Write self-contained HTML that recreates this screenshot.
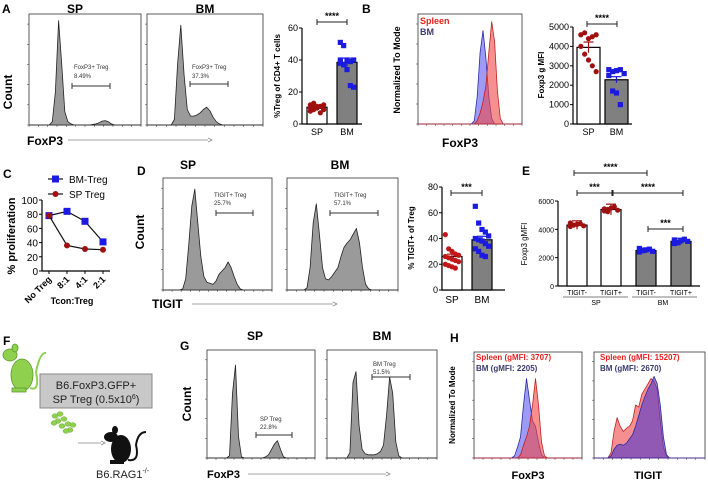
<!DOCTYPE html>
<html><head><meta charset="utf-8"><style>
html,body{margin:0;padding:0;background:#fff;}
svg{display:block;font-family:"Liberation Sans",Arial,sans-serif;}
</style></head><body>
<svg id="fig" width="708" height="480" viewBox="0 0 708 480" xmlns="http://www.w3.org/2000/svg"></svg>
<script>
// ---------- DATA ----------
const histA_SP=[0,0,0,0,0,0,0,0.03,0.3,0.94,0.55,0.12,0.03,0.01,0,0,0,0,0,0,0.005,0.01,0.02,0.035,0.04,0.03,0.01,0,0,0,0,0,0,0,0,0];
const histA_BM=[0,0,0,0,0,0,0,0,0.05,0.55,0.9,0.45,0.14,0.08,0.08,0.09,0.11,0.14,0.16,0.13,0.07,0.03,0.01,0,0,0,0,0,0,0,0,0,0,0,0,0];
const histB_BM=[0,0,0,0,0,0,0,0,0,0,0,0,0,0,0,0,0,0,0,0.03,0.25,0.65,0.85,0.6,0.25,0.05,0,0,0,0,0,0,0,0,0,0];
const histB_SP=[0,0,0,0,0,0,0,0,0,0,0,0,0,0,0,0,0,0,0,0,0.03,0.1,0.2,0.35,0.65,0.93,0.75,0.3,0.05,0,0,0,0,0,0,0];
const histD_SP=[0,0,0,0,0,0,0.01,0.1,0.4,0.75,0.9,0.6,0.3,0.12,0.07,0.06,0.05,0.08,0.14,0.17,0.2,0.25,0.2,0.12,0.05,0.01,0,0,0,0,0,0,0,0,0,0];
const histD_BM=[0,0,0,0,0,0,0.02,0.2,0.6,0.77,0.5,0.2,0.1,0.09,0.12,0.16,0.2,0.3,0.38,0.42,0.45,0.5,0.55,0.42,0.2,0.05,0.01,0,0,0,0,0,0,0,0,0];
const histG_SP=[0,0,0,0,0,0,0,0.02,0.6,0.86,0.2,0.01,0,0,0,0,0,0,0,0.01,0.03,0.08,0.13,0.16,0.08,0.01,0,0,0,0,0,0,0,0,0,0];
const histG_BM=[0,0,0,0,0,0,0,0.05,0.7,0.8,0.3,0.08,0.04,0.03,0.03,0.03,0.04,0.06,0.12,0.4,0.75,0.6,0.15,0.02,0,0,0,0,0,0,0,0,0,0,0,0];
const histH1_BM=[0,0,0,0,0,0,0,0,0,0,0,0,0,0.02,0.1,0.2,0.5,0.75,0.55,0.35,0.3,0.15,0.03,0,0,0,0,0,0,0,0,0,0,0,0,0];
const histH1_SP=[0,0,0,0,0,0,0,0,0,0,0,0,0,0,0,0.03,0.12,0.2,0.3,0.5,0.75,0.5,0.15,0.02,0,0,0,0,0,0,0,0,0,0,0,0];
const histH2_SP=[0,0,0,0,0,0.05,0.25,0.38,0.3,0.25,0.28,0.3,0.35,0.5,0.48,0.6,0.65,0.7,0.75,0.72,0.65,0.35,0.1,0.02,0,0,0,0,0,0,0,0,0,0,0,0];
const histH2_BM=[0,0,0,0,0,0.02,0.08,0.12,0.13,0.12,0.14,0.18,0.22,0.3,0.4,0.5,0.58,0.65,0.7,0.77,0.7,0.5,0.2,0.03,0,0,0,0,0,0,0,0,0,0,0,0];

const aCats=["SP","BM"], aMeans=[10.5,38.5];
const aSP=[8,9,10,11,12,12,13,11,7,9,10], aBM=[51,49,40,39,40,38,37,34,24,23,40];
const bCats=["SP","BM"], bMeans=[3950,2280];
const bSP=[4600,4700,4400,4500,4600,4000,3600,3300,3000,2700], bBM=[2800,2700,2750,2800,2600,2500,1700,1600,1000];
const dCats=["SP","BM"], dMeans=[26,39];
const dSP=[43,32,30,28,27,26,25,24,23,22,20,19,18,17], dBM=[65,52,47,45,42,40,39,38,36,34,32,30,27,26];
const eCats=["TIGIT-","TIGIT+","TIGIT-","TIGIT+"], eMeans=[4300,5400,2500,3150];
const eDots=[[4200,4300,4350,4400,4250,4450,4300],[5300,5400,5500,5600,5350,5450,5250],[2400,2500,2550,2600,2450,2650,2500],[3000,3100,3200,3300,3150,3250,3050]];
const cCats=["No Treg","8:1","4:1","2:1"], cBM=[78,84,70,41], cSP=[78,36,31,30];
const cTicks=[0,20,40,60,80,100];

// ---------- HELPERS ----------
const svg=document.getElementById('fig');
const NS="http://www.w3.org/2000/svg";
function mk(tag,attrs,parent){const e=document.createElementNS(NS,tag);for(const k in attrs)e.setAttribute(k,attrs[k]);(parent||svg).appendChild(e);return e;}
function txt(x,y,s,size,opts){opts=opts||{};const e=mk('text',{x:x,y:y,'font-size':size,fill:opts.fill||'#000','font-weight':opts.bold?'bold':'normal','text-anchor':opts.anchor||'start'});if(opts.rot)e.setAttribute('transform','rotate('+opts.rot+' '+x+' '+y+')');e.textContent=s;return e;}

function histBox(x0,y0,x1,y1,name){
  const r=mk('rect',{x:x0,y:y0,width:x1-x0,height:y1-y0,fill:'none',stroke:'#333','stroke-width':0.8});
  
  
  for(let i=0;i<=12;i++){mk('line',{x1:x0+i*(x1-x0)/12,y1:y1,x2:x0+i*(x1-x0)/12,y2:y1+2,stroke:'#333','stroke-width':0.5});}
  for(let i=0;i<=5;i++){mk('line',{x1:x0,y1:y1-i*(y1-y0)/5.5,x2:x0-2,y2:y1-i*(y1-y0)/5.5,stroke:'#333','stroke-width':0.5});}
}
function hist(x0,y0,x1,y1,vals,fill,stroke,name){
  const w=x1-x0,h=y1-y0,n=vals.length;
  const xs=i=>x0+(i+0.5)*w/n, ys=v=>y1-v*h;
  let d='M'+x0+','+y1;
  vals.forEach((v,i)=>{d+=' L'+xs(i).toFixed(1)+','+ys(v).toFixed(1);});
  d+=' L'+x1+','+y1+' Z';
  const p=mk('path',{d:d,fill:fill,stroke:stroke,'stroke-width':0.8,'stroke-linejoin':'round'});
  
  
}
function gate(x0,x1,y,name){
  const g=mk('g',{stroke:'#333','stroke-width':1});
  
  
  mk('line',{x1:x0,y1:y,x2:x1,y2:y},g);mk('line',{x1:x0,y1:y-3,x2:x0,y2:y+3},g);mk('line',{x1:x1,y1:y-3,x2:x1,y2:y+3},g);
}
function arrow(x0,x1,y){mk('line',{x1:x0,y1:y,x2:x1,y2:y,stroke:'#888','stroke-width':0.8});mk('path',{d:'M'+x1+','+(y-2)+' L'+(x1+4)+','+y+' L'+x1+','+(y+2),fill:'none',stroke:'#888','stroke-width':0.8});}
function sig(x0,x1,y,s,name){
  const g=mk('g',{stroke:'#222','stroke-width':1});
  
  
  mk('line',{x1:x0,y1:y,x2:x1,y2:y},g);mk('line',{x1:x0,y1:y-3,x2:x0,y2:y+3},g);mk('line',{x1:x1,y1:y-3,x2:x1,y2:y+3},g);
  txt((x0+x1)/2,y-3,s,9,{anchor:'middle',bold:true});
}
function barChart(o){
  const ys=v=>o.yb-(v/o.max)*(o.yb-o.yt);
  mk('line',{x1:o.ax,y1:o.yt,x2:o.ax,y2:o.yb,stroke:'#000','stroke-width':1.2});
  mk('line',{x1:o.ax,y1:o.yb,x2:o.xEnd,y2:o.yb,stroke:'#000','stroke-width':1.2});
  o.ticks.forEach(t=>{mk('line',{x1:o.ax-3,y1:ys(t),x2:o.ax,y2:ys(t),stroke:'#000','stroke-width':1});
    const l=txt(o.ax-4,ys(t)+3,String(t),o.fs||9,{anchor:'end'});
    
    });
  o.cats.forEach((c,i)=>{
    const bx=o.bx[i],bw=o.bw;
    const b=mk('rect',{x:bx,y:ys(o.means[i]),width:bw,height:o.yb-ys(o.means[i]),fill:o.fills[i],stroke:'#000','stroke-width':1.2});
    
    
    mk('line',{x1:bx+bw/2-5,y1:ys(o.means[i]*1.07),x2:bx+bw/2+5,y2:ys(o.means[i]*1.07),stroke:o.dotc[i],'stroke-width':1.2});
    mk('line',{x1:bx+bw/2,y1:ys(o.means[i]*0.93),x2:bx+bw/2,y2:ys(o.means[i]*1.07),stroke:o.dotc[i],'stroke-width':1.2});
    o.dots[i].forEach((v,j)=>{
      const dx=bx+bw/2+((j%5)-2)*bw/6;
      let d;
      if(o.shape[i]==='c'){d=mk('circle',{cx:dx,cy:ys(v),r:2.6,fill:o.dotc[i]});}
      else{d=mk('rect',{x:dx-2.6,y:ys(v)-2.6,width:5.2,height:5.2,fill:o.dotc[i]});}
      
      
    });
    const l=txt(bx+bw/2,o.yb+(o.catDy||11),c,o.catFs||9,{anchor:'middle'});
    
    
  });
  return ys;
}

// ---------- PANEL A ----------
txt(2,13,'A',12,{bold:true});
txt(75,13,'SP',12,{bold:true,anchor:'middle'});
txt(205,13,'BM',12,{bold:true,anchor:'middle'});
histBox(29,14,141,125,'hist-a-sp');
hist(29,14,141,125,histA_SP,'#9a9a9a','#222','hist-a-sp-curve');
histBox(147,14,263,125,'hist-a-bm');
hist(147,14,263,125,histA_BM,'#9a9a9a','#222','hist-a-bm-curve');
txt(74,69,'FoxP3+ Treg',6,{fill:'#333'});txt(74,78,'8.49%',6,{fill:'#333'});
gate(72,110,86,'gate-a-sp');
txt(192,69,'FoxP3+ Treg',6,{fill:'#333'});txt(192,78,'37.3%',6,{fill:'#333'});
gate(190,228,84,'gate-a-bm');
txt(12,92,'Count',12,{bold:true,anchor:'middle',rot:-90});
txt(27,145,'FoxP3',12,{bold:true});
arrow(68,208,140);
barChart({name:'a',ax:302,yb:124,yt:28,max:60,xEnd:362,ticks:[0,20,40,60],cats:aCats,means:aMeans,bx:[307,337],bw:20,fills:['#fff','#808080'],dots:[aSP,aBM],dotc:['#a01010','#1a1ae0'],shape:['c','s']});
txt(280,76,'%Treg of CD4+ T cells',8,{bold:true,anchor:'middle',rot:-90});
sig(317,347,22,'****','sig-a');

// ---------- PANEL B ----------
txt(362,13,'B',12,{bold:true});
histBox(418,14,522,124,'hist-b');
hist(418,14,522,124,histB_BM,'rgba(90,90,240,0.6)','#2a2aa0','hist-b-bm');
hist(418,14,522,124,histB_SP,'rgba(240,70,70,0.6)','#c02020','hist-b-sp');
txt(420,24,'Spleen',9,{bold:true,fill:'#e82020'});
txt(420,35,'BM',9,{bold:true,fill:'#3a3a70'});
txt(400,70,'Normalized To Mode',9,{bold:true,anchor:'middle',rot:-90});
txt(460,147,'FoxP3',12,{bold:true,anchor:'middle'});
barChart({name:'b',ax:573,yb:124,yt:27,max:5000,xEnd:632,ticks:[0,1000,2000,3000,4000,5000],cats:bCats,means:bMeans,bx:[577,605],bw:23,fills:['#fff','#808080'],dots:[bSP,bBM],dotc:['#a01010','#1a1ae0'],shape:['c','s']});
txt(544,75,'Foxp3 g MFI',8,{bold:true,anchor:'middle',rot:-90});
sig(587,617,24,'****','sig-b');

// ---------- PANEL C ----------
txt(3,178,'C',12,{bold:true});
(function(){
  const ax=42,yb=271,yt=200,x0=49,dx=18;
  const ys=v=>yb-v/100*(yb-yt);
  mk('line',{x1:ax,y1:yt,x2:ax,y2:yb,stroke:'#000','stroke-width':1.2});
  mk('line',{x1:ax,y1:yb,x2:110,y2:yb,stroke:'#000','stroke-width':1.2});
  cTicks.forEach(t=>{mk('line',{x1:ax-3,y1:ys(t),x2:ax,y2:ys(t),stroke:'#000'});const l=txt(ax-4,ys(t)+4,String(t),10,{anchor:'end'});
    
    });
  cCats.forEach((c,i)=>{const x=x0+i*dx;mk('line',{x1:x,y1:yb,x2:x,y2:yb+3,stroke:'#000'});const l=txt(x+3,yb+9,c,9,{anchor:'end',rot:-45,bold:true});
    
    });
  [[cBM,'#1a1ae0','s','line-bm-treg'],[cSP,'#a01010','c','line-sp-treg']].forEach(s=>{
    const pts=s[0].map((v,i)=>(x0+i*dx)+','+ys(v)).join(' ');
    const pl=mk('polyline',{points:pts,fill:'none',stroke:'#111','stroke-width':1.2});
    
    
    s[0].forEach((v,i)=>{const x=x0+i*dx;let m;
      if(s[2]==='s')m=mk('rect',{x:x-3.5,y:ys(v)-3.5,width:7,height:7,fill:s[1]});else m=mk('circle',{cx:x,cy:ys(v),r:3,fill:s[1]});
      
      });
  });
  mk('line',{x1:48,y1:179,x2:63,y2:179,stroke:'#111','stroke-width':1.2});mk('rect',{x:52,y:175.5,width:7,height:7,fill:'#1a1ae0'});
  txt(69,183,'BM-Treg',10);
  mk('line',{x1:48,y1:194,x2:63,y2:194,stroke:'#111','stroke-width':1.2});mk('circle',{cx:55.5,cy:194,r:3,fill:'#a01010'});
  txt(69,198,'SP Treg',10);
  txt(15,236,'% proliferation',11,{bold:true,anchor:'middle',rot:-90});
  txt(72,304,'Tcon:Treg',9,{bold:true,anchor:'middle'});
})();

// ---------- PANEL D ----------
txt(137,175,'D',12,{bold:true});
txt(188,169,'SP',12,{bold:true,anchor:'middle'});
txt(340,169,'BM',12,{bold:true,anchor:'middle'});
histBox(163,178,272,290,'hist-d-sp');
hist(163,178,272,290,histD_SP,'#9a9a9a','#222','hist-d-sp-curve');
histBox(287,178,398,290,'hist-d-bm');
hist(287,178,398,290,histD_BM,'#9a9a9a','#222','hist-d-bm-curve');
txt(214,197,'TIGIT+  Treg',6,{fill:'#333'});txt(214,205,'25.7%',6,{fill:'#333'});
gate(216,253,213,'gate-d-sp');
txt(334,197,'TIGIT+  Treg',6,{fill:'#333'});txt(334,205,'57.1%',6,{fill:'#333'});
gate(330,378,213,'gate-d-bm');
txt(144,232,'Count',12,{bold:true,anchor:'middle',rot:-90});
txt(152,308,'TIGIT',12,{bold:true});
arrow(192,333,304);
barChart({name:'d',ax:442,yb:290,yt:187,max:80,xEnd:505,ticks:[0,20,40,60,80],cats:dCats,means:dMeans,bx:[442,472],bw:20,fills:['#fff','#808080'],dots:[dSP,dBM],dotc:['#c01818','#1a1ae0'],shape:['c','s'],catFs:10,catDy:13});
txt(414,238,'% TIGIT+ of Treg',8,{bold:true,anchor:'middle',rot:-90});
sig(451,482,193,'***','sig-d');

// ---------- PANEL E ----------
txt(522,175,'E',12,{bold:true});
barChart({name:'e',ax:558,yb:286,yt:201,max:6000,xEnd:700,ticks:[0,2000,4000,6000],fs:7,cats:eCats,means:eMeans,bx:[567,601,636,671],bw:20,fills:['#fff','#fff','#808080','#808080'],dots:eDots,dotc:['#a01010','#a01010','#1a1ae0','#1a1ae0'],shape:['c','c','s','s'],catFs:7,catDy:9});
mk('line',{x1:563,y1:297,x2:628,y2:297,stroke:'#555','stroke-width':0.8});
mk('line',{x1:632,y1:297,x2:697,y2:297,stroke:'#555','stroke-width':0.8});
txt(596,305,'SP',7,{anchor:'middle'});txt(663,305,'BM',7,{anchor:'middle'});
txt(527,244,'Foxp3 gMFI',8,{anchor:'middle',rot:-90});
sig(574,647,173,'****','sig-e-1');
sig(577,612,193,'***','sig-e-2');
sig(613,683,193,'****','sig-e-3');
sig(648,683,229,'***','sig-e-4');

// ---------- PANEL F ----------
txt(3,345,'F',12,{bold:true});
(function(){
  const g=mk('g',{fill:'#8fd14f',stroke:'#5a9a2a','stroke-width':0.8});
  
  
  mk('ellipse',{cx:22,cy:375,rx:11,ry:16},g);
  mk('ellipse',{cx:10,cy:355,rx:7,ry:6},g);
  mk('ellipse',{cx:15,cy:348,rx:3,ry:4},g);
  mk('path',{d:'M30,388 Q40,392 36,372 Q40,352 46,353',fill:'none',stroke:'#8fd14f','stroke-width':2},g);
  mk('rect',{x:12,y:388,width:14,height:4},g);
  const b=mk('rect',{x:40,y:374,width:112,height:34,fill:'#c8c8c8',stroke:'#888','stroke-width':1});
  
  
  txt(96,389,'B6.FoxP3.GFP+',11,{anchor:'middle',fill:'#222'});
  const t=txt(96,403,'SP Treg (0.5x10',11,{anchor:'middle',fill:'#222'});
  const ts=document.createElementNS(NS,'tspan');ts.setAttribute('font-size','7');ts.setAttribute('dy','-4');ts.textContent='6';t.appendChild(ts);
  const ts2=document.createElementNS(NS,'tspan');ts2.setAttribute('dy','4');ts2.textContent=')';t.appendChild(ts2);
  const cg=mk('g',{fill:'#8fd14f',stroke:'#6aa83a','stroke-width':0.5});
  
  
  [[55,416],[60,414],[58,421],[64,419],[62,426],[68,424],[70,430],[66,431],[73,425],[54,423]].forEach(p=>mk('ellipse',{cx:p[0],cy:p[1],rx:3,ry:2.3},cg));
  arrow(78,101,443);
  const k=mk('g',{fill:'#111'});
  
  
  mk('ellipse',{cx:121,cy:449,rx:10,ry:14},k);
  mk('ellipse',{cx:111,cy:437,rx:7,ry:5},k);
  mk('ellipse',{cx:115,cy:430,rx:3,ry:4},k);
  mk('path',{d:'M128,460 Q140,462 136,445 Q138,432 146,432',fill:'none',stroke:'#111','stroke-width':2},k);
  mk('rect',{x:110,y:460,width:14,height:4},k);
  const rt=txt(96,478,'B6.RAG1',11,{fill:'#222'});
  const s1=document.createElementNS(NS,'tspan');s1.setAttribute('font-size','7');s1.setAttribute('dy','-5');s1.textContent='-/-';rt.appendChild(s1);
})();

// ---------- PANEL G ----------
txt(180,350,'G',12,{bold:true});
txt(255,340,'SP',12,{bold:true,anchor:'middle'});
txt(382,340,'BM',12,{bold:true,anchor:'middle'});
histBox(207,350,315,458,'hist-g-sp');
hist(207,350,315,458,histG_SP,'#9a9a9a','#222','hist-g-sp-curve');
histBox(327,350,437,458,'hist-g-bm');
hist(327,350,437,458,histG_BM,'#9a9a9a','#222','hist-g-bm-curve');
txt(260,421,'SP Treg',6,{fill:'#333'});txt(260,429,'22.8%',6,{fill:'#333'});
gate(256,292,435,'gate-g-sp');
txt(373,366,'BM Treg',6,{fill:'#333'});txt(373,374,'51.5%',6,{fill:'#333'});
gate(372,410,377,'gate-g-bm');
txt(191,404,'Count',12,{bold:true,anchor:'middle',rot:-90});
txt(207,478,'FoxP3',11,{bold:true});
arrow(248,386,474);

// ---------- PANEL H ----------
txt(450,342,'H',12,{bold:true});
histBox(474,352,582,458,'hist-h-foxp3');
hist(474,352,582,458,histH1_BM,'rgba(90,90,240,0.6)','#2a2aa0','hist-h-foxp3-bm');
hist(474,352,582,458,histH1_SP,'rgba(240,70,70,0.6)','#c02020','hist-h-foxp3-sp');
histBox(594,352,705,458,'hist-h-tigit');
hist(594,352,705,458,histH2_SP,'rgba(240,70,70,0.6)','#c02020','hist-h-tigit-sp');
hist(594,352,705,458,histH2_BM,'rgba(90,60,200,0.65)','#2a2aa0','hist-h-tigit-bm');
txt(476,360,'Spleen (gMFI: 3707)',8,{bold:true,fill:'#e82020'});
txt(476,371,'BM (gMFI: 2205)',8,{bold:true,fill:'#3a3a70'});
txt(600,360,'Spleen (gMFI: 15207)',8,{bold:true,fill:'#e82020'});
txt(600,371,'BM (gMFI: 2670)',8,{bold:true,fill:'#3a3a70'});
txt(455,405,'Normalized To Mode',8,{bold:true,anchor:'middle',rot:-90});
txt(528,479,'FoxP3',11,{bold:true,anchor:'middle'});
txt(648,479,'TIGIT',11,{bold:true,anchor:'middle'});
</script>
</body></html>
